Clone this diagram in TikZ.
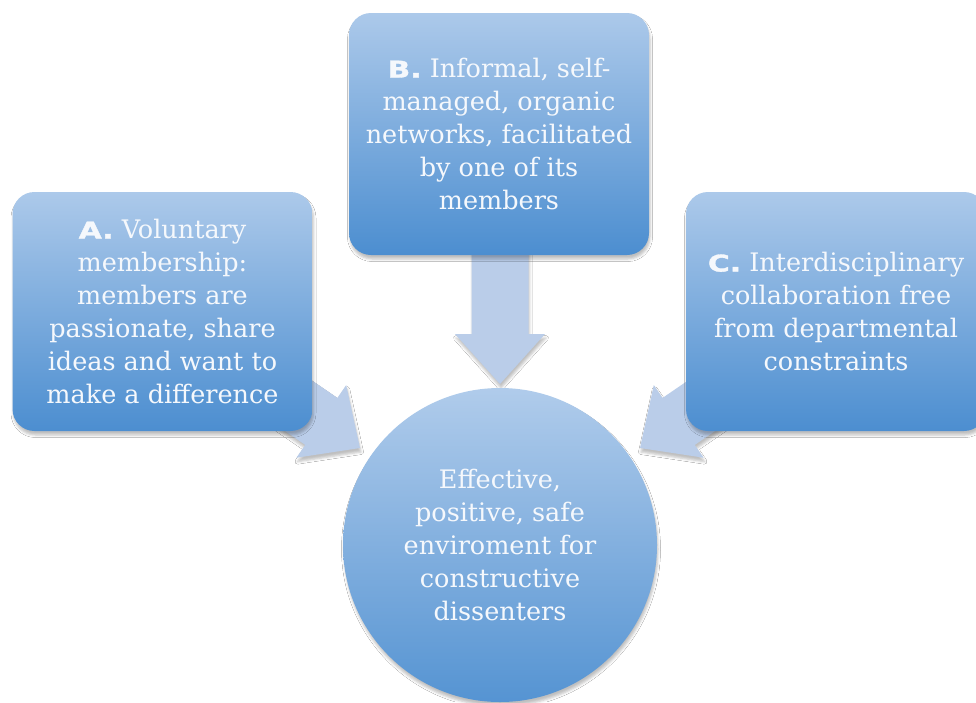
\documentclass[tikz,border=0pt]{standalone}
\usepackage{fontspec}
\setmainfont{DejaVu Serif}
\newfontfamily\lblfont[FakeStretch=1.3, BoldFeatures={FakeBold=1.5}]{DejaVu Sans}
\usetikzlibrary{shadows.blur}
\definecolor{boxtop}{RGB}{172,201,234}
\definecolor{boxbot}{RGB}{76,142,208}
\definecolor{arrowfill}{RGB}{186,205,233}
\definecolor{txt}{RGB}{245,248,252}
\newcommand\boxlabel[1]{{\lblfont\bfseries\fontsize{23}{33}\selectfont #1}}
\tikzset{
  softshadow/.style={blur shadow={shadow xshift=1pt, shadow yshift=-4pt, shadow opacity=25, shadow blur radius=2.5pt}},
  blockbox/.style={rectangle, rounded corners=22pt, minimum width=300pt, inner sep=0pt,
    top color=boxtop, bottom color=boxbot, draw=none, text=txt, align=center,
    font=\fontsize{25.5}{33}\selectfont, softshadow},
  hub/.style={circle, minimum size=314pt, inner sep=0pt,
    top color=boxtop!95!white, bottom color=boxbot!95!white, draw=none, text=txt, align=center,
    font=\fontsize{25.5}{33}\selectfont, softshadow},
  blockarrow/.style={fill=arrowfill, draw=none, softshadow}
}
\begin{document}
\begin{tikzpicture}[x=1pt, y=-1pt]
  \useasboundingbox (0,0) rectangle (976,702);
  \clip (0,0) rectangle (976,702);
  \fill[white] (0,0) rectangle (976,702);

  % block arrows (behind the boxes)
  \path[blockarrow] (500,384) -- (545,334) -- (528.5,334) -- (528.5,240)
     -- (471.5,240) -- (471.5,334) -- (455,334) -- cycle;
  \path[blockarrow] (360,448) -- (346.2,385.1) -- (337.4,397.9) -- (255,341.4)
     -- (222.8,388.4) -- (305.2,444.9) -- (296.4,457.7) -- cycle;
  \path[blockarrow] (640,448) -- (653.8,385.1) -- (662.6,397.9) -- (745,341.4)
     -- (777.2,388.4) -- (694.8,444.9) -- (703.6,457.7) -- cycle;

  \node[blockbox, minimum height=239pt] (a) at (162.5,311.5)
    {\boxlabel{A.} Voluntary\\membership:\\members are\\passionate, share\\ideas and want to\\make a difference};
  \node[blockbox, minimum height=242pt] (b) at (499,134)
    {\boxlabel{B.} Informal, self-\\managed, organic\\networks, facilitated\\by one of its\\members};
  \node[blockbox, minimum height=239pt] (c) at (836,311.5)
    {\boxlabel{C.} Interdisciplinary\\collaboration free\\from departmental\\constraints};
  \node[hub] (hubnode) at (500,545)
    {Effective,\\positive, safe\\enviroment for\\constructive\\dissenters};
\end{tikzpicture}
\end{document}
